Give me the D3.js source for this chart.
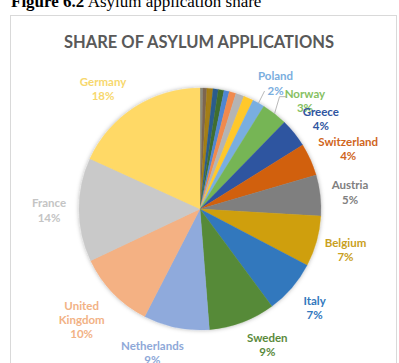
<!DOCTYPE html>
<html>
<head>
<meta charset="utf-8">
<script src="https://cdn.jsdelivr.net/npm/d3@7"></script>
<style>
  body { margin: 0; background: #fff; }
  svg { display: block; }
</style>
</head>
<body>
<div id="container"></div>
<script>
// data we work with (share of asylum applications, clockwise from 12 o'clock)
const countries = [
  "Other 1", "Other 2", "Other 3", "Other 4", "Other 5", "Other 6", "Other 7", "Other 8", "Other 9",
  "Poland", "Norway", "Greece", "Switzerland", "Austria", "Belgium",
  "Italy", "Sweden", "Netherlands", "United Kingdom", "France", "Germany"
];
const shares = [
  0.4, 0.5, 0.8, 0.7, 0.75, 0.7, 0.9, 1.1, 1.3,
  1.6, 3.4, 3.8, 4.3, 5.4, 6.7,
  7.1, 8.8, 8.7, 10.3, 13.7, 18.0
];
// which slices carry a data label
const labelled = [
  "Poland", "Norway", "Greece", "Switzerland", "Austria", "Belgium",
  "Italy", "Sweden", "Netherlands", "United Kingdom", "France", "Germany"
];

const sliceColors = [
  "#8a8a7a", "#7d6650", "#a47e12", "#2b5c8c", "#3f6e2e", "#4f86d2", "#f08a4e", "#b4b4b4", "#ffc82a",
  "#79aee0", "#76b554", "#2f55a0", "#d1600f", "#7f7f7f", "#cf9f0c",
  "#3278bd", "#568a38", "#8faadc", "#f4b183", "#c9c9c9", "#ffd966"
];
const textColors = {
  "Poland": "#7aaede", "Norway": "#86bf62", "Greece": "#2f55a0", "Switzerland": "#d0651c",
  "Austria": "#808080", "Belgium": "#c9a021", "Italy": "#3278bd", "Sweden": "#5a8a3c",
  "Netherlands": "#8ea8d8", "United Kingdom": "#f2b285", "France": "#c4c4c4", "Germany": "#f7d86e"
};
// small angle nudges (degrees) that mimic Excel's best-fit label placement
const nudge = { "Netherlands": 7, "Sweden": -6, "Norway": 6, "Germany": -6, "Switzerland": 2, "Greece": 2, "Poland": 2, "United Kingdom": 1 };
const labelRadius = { "United Kingdom": 162, "Switzerland": 160, "Germany": 155, "Poland": 147 };

const w = 399;
const h = 363;
const cx = 200;
const cy = 209;
const r = 121;

let viz = d3.select("#container")
  .append("svg")
    .attr("width", w)
    .attr("height", h)
;

// caption above the chart box
let cap = viz.append("text")
    .attr("x", 11)
    .attr("y", 7)
    .attr("font-family", "'Liberation Serif', 'Times New Roman', serif")
    .attr("font-size", 17)
    .attr("fill", "#000");
cap.append("tspan").attr("font-weight", "bold").text("Figure 6.2");
cap.append("tspan").text(" Asylum application share");

// chart box
viz.append("rect")
    .attr("x", 10.5)
    .attr("y", 15.5)
    .attr("width", 386)
    .attr("height", 360)
    .attr("fill", "#fff")
    .attr("stroke", "#d9d9d9");

viz.append("text")
    .attr("x", 199)
    .attr("y", 42)
    .attr("text-anchor", "middle")
    .attr("dominant-baseline", "central")
    .attr("font-family", "Lato, sans-serif")
    .attr("font-weight", "bold")
    .attr("font-size", 16.5)
    .attr("fill", "#595959")
    .text("SHARE OF ASYLUM APPLICATIONS");

// soft shadow
let defs = viz.append("defs");
let f = defs.append("filter").attr("id", "shadow").attr("x", "-20%").attr("y", "-20%").attr("width", "140%").attr("height", "140%");
f.append("feDropShadow").attr("dx", 0).attr("dy", 0).attr("stdDeviation", 2).attr("flood-color", "#000").attr("flood-opacity", 0.3);

let data = countries.map((c, i) => ({ country: c, share: shares[i], color: sliceColors[i] }));
let total = d3.sum(shares);

let pieMaker = d3.pie()
    .value(d => d.share)
    .sort(null);

let arcMaker = d3.arc()
    .innerRadius(0)
    .outerRadius(r);

let arcs = pieMaker(data);

let g = viz.append("g").attr("transform", `translate(${cx},${cy})`);

g.append("g")
    .attr("filter", "url(#shadow)")
  .selectAll("path")
  .data(arcs)
  .enter()
  .append("path")
    .attr("d", arcMaker)
    .attr("fill", d => d.data.color)
    .attr("stroke", d => d.data.color)
    .attr("stroke-width", 0.3)
;

function midAngle(d) {
  return (d.startAngle + d.endAngle) / 2;
}
function polar(a, rad) {
  return [rad * Math.sin(a), -rad * Math.cos(a)];
}

let labels = arcs.filter(d => labelled.includes(d.data.country));

labels.forEach(d => {
  let name = d.data.country;
  let a = midAngle(d) + (nudge[name] || 0) * Math.PI / 180;
  let rad = labelRadius[name] || 151;
  let p = polar(a, rad);
  let pct = Math.round(d.data.share / total * 100) + "%";
  let lines = name === "United Kingdom" ? ["United", "Kingdom", pct] : [name, pct];
  let lh = 14.2;
  let t = g.append("text")
      .attr("text-anchor", "middle")
      .attr("font-family", "Lato, sans-serif")
      .attr("font-weight", "bold")
      .attr("font-size", 11.5)
      .attr("fill", textColors[name]);
  lines.forEach((s, i) => {
    t.append("tspan")
      .attr("x", p[0])
      .attr("y", p[1] + (i - (lines.length - 1) / 2) * lh)
      .attr("dominant-baseline", "central")
      .text(s);
  });
});

// leader lines for the two narrow labelled slices
let leaders = arcs.filter(d => d.data.country === "Poland" || d.data.country === "Norway");
leaders.forEach(d => {
  let e = polar(midAngle(d), r);
  let pts;
  if (d.data.country === "Poland") {
    pts = [[e[0] + 6, e[1] - 12], e];
  } else {
    pts = [[e[0] + 12, e[1] - 17], [e[0] + 5, e[1] - 17], e];
  }
  g.append("path")
    .attr("d", d3.line()(pts))
    .attr("fill", "none")
    .attr("stroke", "#a6a6a6")
    .attr("stroke-width", 0.8);
});
</script>
</body>
</html>
